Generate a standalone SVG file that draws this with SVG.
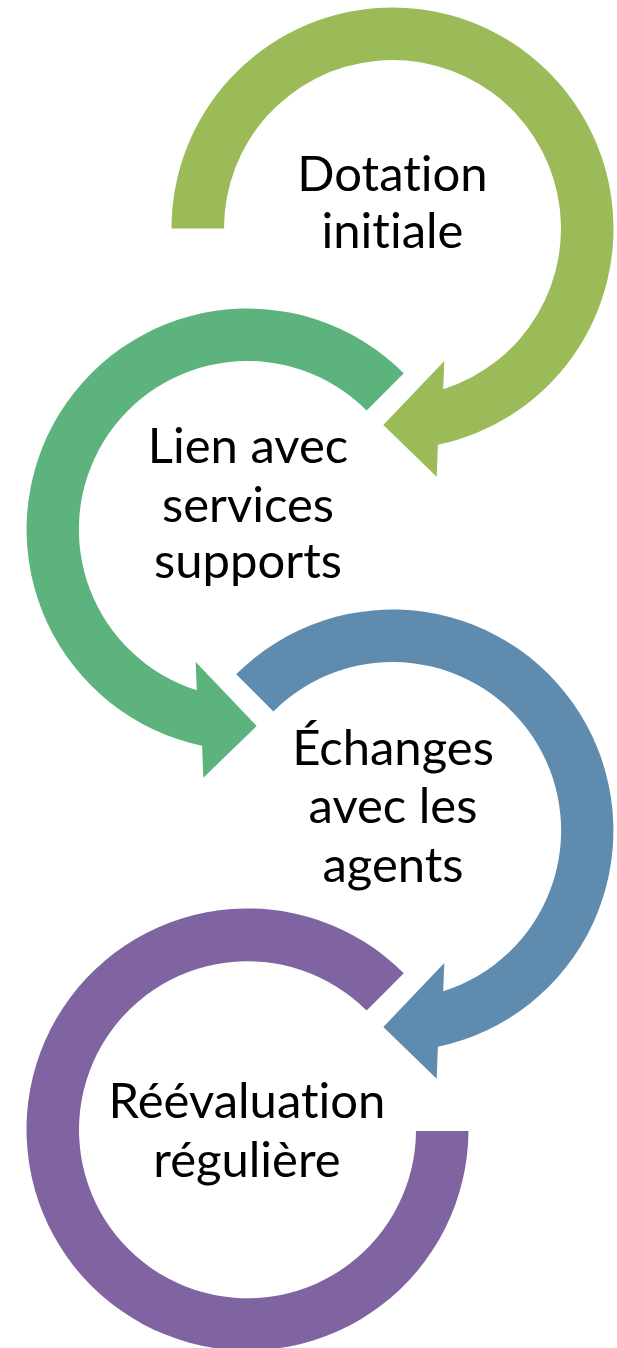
<svg xmlns="http://www.w3.org/2000/svg" width="617" height="1348" viewBox="0 0 617 1348">
<style>
.lbl{font-family:Lato,"Open Sans","Liberation Sans",sans-serif;font-size:49px;fill:#000;text-anchor:middle;font-variant-ligatures:none;font-feature-settings:"liga" 0,"dlig" 0}
</style>
<rect width="617" height="1348" fill="#fff"/>
<g id="connectors"/>
<g id="node-dotation">
<path fill="#9BBB59" d="M171.5,228.5 A221,221 0 1 1 437.9,444.8 L436.7,476.7 L383.3,425 L444.3,361 L443.2,389.2 A168.5,168.5 0 1 0 224,228.5 Z"/>
<text class="lbl" x="392.5" y="190.7">Dotation</text>
<text class="lbl" x="392.5" y="248.3">initiale</text>
</g>
<g id="node-lien">
<path fill="#5DB37E" d="M403.8,373.2 A221,221 0 1 0 202.1,745.8 L203.3,777.7 L256.7,726 L195.7,662 L196.8,690.2 A168.5,168.5 0 1 1 366.6,410.4 Z"/>
<text class="lbl" x="248" y="463.3">Lien avec</text>
<text class="lbl" x="248" y="521.7">services</text>
<text class="lbl" x="248" y="578.3">supports</text>
</g>
<g id="node-echanges">
<path fill="#5F8CAE" d="M236.2,674.2 A221,221 0 1 1 437.9,1046.8 L436.7,1078.7 L383.3,1027 L444.3,963 L443.2,991.2 A168.5,168.5 0 1 0 273.4,711.4 Z"/>
<text class="lbl" x="393" y="765">Échanges</text>
<text class="lbl" x="393" y="823.3">avec les</text>
<text class="lbl" x="393" y="881.7">agents</text>
</g>
<g id="node-reevaluation">
<path fill="#8064A2" d="M403.8,973.2 A221,221 0 1 0 468.5,1131 L416,1131 A168.5,168.5 0 1 1 366.6,1010.6 Z"/>
<text class="lbl" x="247" y="1118.3">Réévaluation</text>
<text class="lbl" x="247" y="1176.7">régulière</text>
</g>
</svg>
